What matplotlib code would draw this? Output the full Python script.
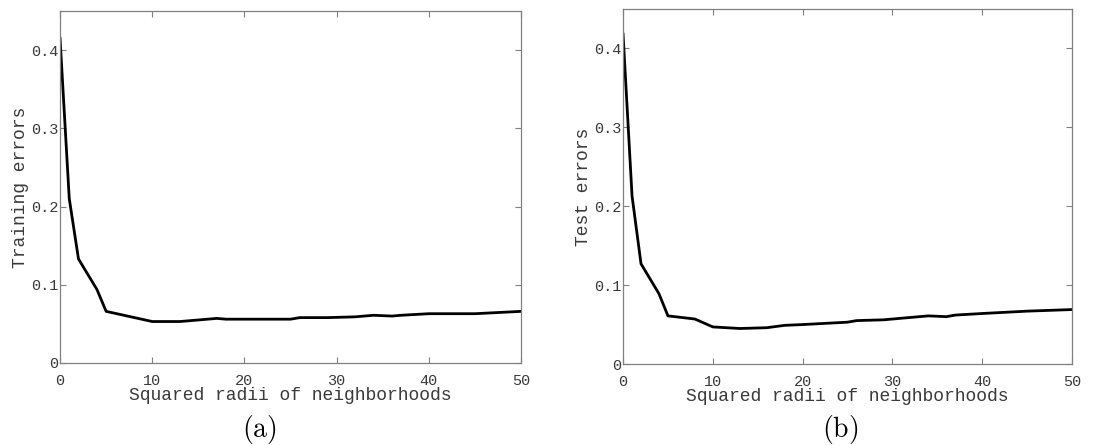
import matplotlib
matplotlib.use('Agg')
import matplotlib.pyplot as plt

# squared radii and the error curves
radii_a = [0, 1, 2, 4, 5, 10, 13, 17, 18, 20, 25, 26, 29, 32, 34, 36, 37, 40, 45, 50]
train_err = [0.415, 0.210, 0.133, 0.094, 0.066, 0.053, 0.053, 0.057, 0.056, 0.056,
             0.056, 0.058, 0.058, 0.059, 0.061, 0.060, 0.061, 0.063, 0.063, 0.066]

radii_b = [0, 1, 2, 4, 5, 8, 10, 13, 16, 18, 20, 25, 26, 29, 32, 34, 36, 37, 40, 45, 50]
test_err = [0.418, 0.213, 0.127, 0.089, 0.061, 0.057, 0.047, 0.045, 0.046, 0.049, 0.050,
            0.053, 0.055, 0.056, 0.059, 0.061, 0.060, 0.062, 0.064, 0.067, 0.069]

xticks = [0, 10, 20, 30, 40, 50]
yticks = [0, 0.1, 0.2, 0.3, 0.4]
yticklabels = ['0', '0.1', '0.2', '0.3', '0.4']

plt.rcParams['mathtext.fontset'] = 'cm'
mono = 'Liberation Mono'
spine_col = '#808080'
text_col = '#3a3a3a'


def setup(ax, x, y, ylabel):
	ax.plot(x, y, color='k', lw=2.0)
	ax.set_xlim(0, 50)
	ax.set_ylim(0, 0.45)
	ax.set_xticks(xticks)
	ax.set_yticks(yticks)
	ax.set_xticklabels([str(t) for t in xticks], family=mono, fontsize=11, color=text_col)
	ax.set_yticklabels(yticklabels, family=mono, fontsize=11, color=text_col)
	ax.tick_params(direction='in', length=4, width=0.8, color=spine_col,
		top=True, right=True)
	ax.tick_params(axis='x', pad=8)
	ax.tick_params(axis='y', pad=1)
	for s in ax.spines.values():
		s.set_color(spine_col)
		s.set_linewidth(0.9)
	ax.set_xlabel('Squared radii of neighborhoods', family=mono, fontsize=13,
		color=text_col, labelpad=-1)
	ax.set_ylabel(ylabel, family=mono, fontsize=13, color=text_col, labelpad=2)


fig = plt.figure(figsize=(11.14, 4.45), dpi=100)
ax_a = fig.add_axes([0.0539, 0.1843, 0.4138, 0.791])
ax_b = fig.add_axes([0.5593, 0.182, 0.403, 0.798])

setup(ax_a, radii_a, train_err, 'Training errors')
setup(ax_b, radii_b, test_err, 'Test errors')

fig.text(259.5 / 1114, 1 - 430 / 445, r'$\mathrm{(a)}$', ha='center', va='center', fontsize=20)
fig.text(840 / 1114, 1 - 430 / 445, r'$\mathrm{(b)}$', ha='center', va='center', fontsize=20)

fig.savefig('out.png', dpi=100)
